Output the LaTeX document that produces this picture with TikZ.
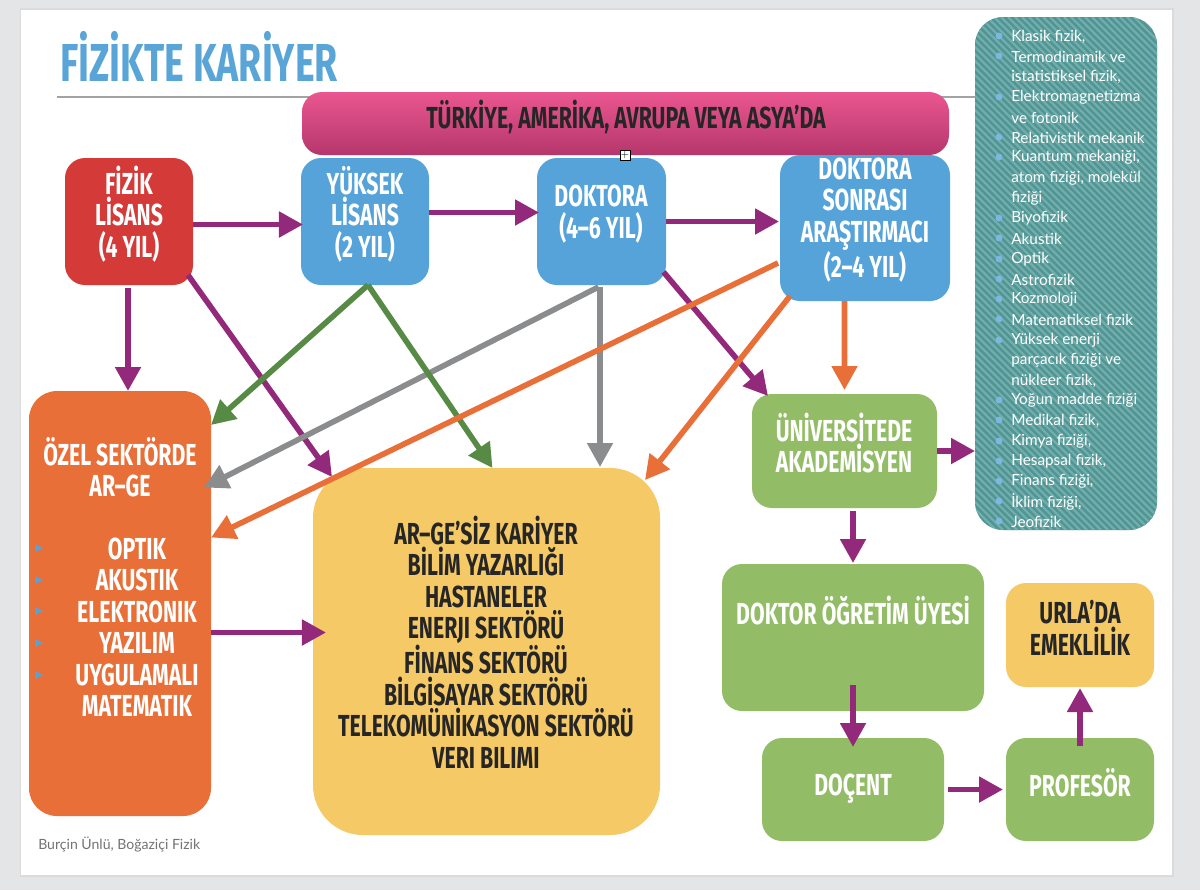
\documentclass[tikz,border=0pt]{standalone}
\usepackage{fontspec}
\usetikzlibrary{calc, positioning, fit, arrows.meta}

\newfontfamily\dinfont[FakeStretch=0.70]{Fira Sans}
\newfontfamily\listfont{Lato}

\definecolor{sayfagri}{HTML}{E3E5E7}
\definecolor{baslikmavi}{HTML}{5AA5D8}
\definecolor{mor}{HTML}{93297A}
\definecolor{kirmizi}{HTML}{D43A38}
\definecolor{mavi}{HTML}{56A3D9}
\definecolor{turuncu}{HTML}{E96F38}
\definecolor{sari}{HTML}{F5C965}
\definecolor{yesil}{HTML}{93BC67}
\definecolor{koyuyesil}{HTML}{578B45}
\definecolor{gri}{HTML}{8A8C8E}
\definecolor{deniz}{HTML}{4E9594}
\definecolor{acikdeniz}{HTML}{72ADAC}
\definecolor{pembeust}{HTML}{EA5690}
\definecolor{pembealt}{HTML}{B5376B}

\tikzset{
	box/.style={inner sep=0pt, outer sep=0pt, rounded corners=0.5cm},
	boxtext/.style={font=\dinfont\bfseries\fontsize{21.6}{22.4}\selectfont, align=center, text=white},
	darktext/.style={boxtext, text=black!85},
	listitem/.style={font=\listfont\fontsize{10.9}{12}\selectfont, text=white, anchor=west, inner sep=0pt},
	arrow/.style={line width=0.14cm, -{Triangle[length=0.6cm, width=0.62cm]}},
}

\begin{document}
\begin{tikzpicture}[x=0.025cm, y=-0.025cm]
	\useasboundingbox (0,0) rectangle (1200,890);
	\fill[sayfagri] (0,0) rectangle (1200,890);
	\fill[black!14] (20,8) rectangle (1174,877);
	\fill[white] (21,10) rectangle (1172,875);

	\node[anchor=base west, inner sep=0pt, text=baslikmavi, font=\dinfont\bfseries\fontsize{38}{40}\selectfont] (title) at (60,81) {FİZİKTE KARİYER};
	\coordinate (linestart) at (57,97);
	\coordinate (lineend) at (975,97);
	\draw[gri!80, line width=0.04cm] (linestart) -- (lineend);

	\node[box, fit={(975,17) (1157,530)}, fill=deniz, rounded corners=0.7cm] (alanlar) {};
	\begin{scope}
		\clip[rounded corners=0.7cm] (975,17) rectangle (1157,530);
		\foreach \s in {0,7,...,700}{
				\draw[acikdeniz, line width=0.06cm] (462+\s,17) -- (975+\s,530);
			}
	\end{scope}
	\foreach \y/\t in {36/{Klasik fizik,},56/Termodinamik ve,76/{istatistiksel fizik,},97/Elektromagnetizma,117/ve fotonik,137/Relativistik mekanik,157/{Kuantum mekaniği,},178/{atom fiziği, molekül},198/fiziği,218/Biyofizik,238/Akustik,259/Optik,279/Astrofizik,299/Kozmoloji,319/Matematiksel fizik,340/Yüksek enerji,360/parçacık fiziği ve,380/{nükleer fizik,},400/Yoğun madde fiziği,420/{Medikal fizik,},441/{Kimya fiziği,},461/{Hesapsal fizik,},481/{Finans fiziği,},501/{İklim fiziği,},521/Jeofizik}{
			\node[listitem] (alan\y) at (1011,\y+0.5) {\t};
		}
	\foreach \y in {36,56,97,137,157,218,238,259,279,299,319,340,400,420,441,461,481,501,521}{
			\fill[baslikmavi!80!white] (999,\y) circle (3.5);
		}

	\node[box, fit={(302,92) (949,155)}, top color=pembeust, bottom color=pembealt] (bolge) {};
	\node[darktext] (bolgetext) at (626,117) {TÜRKİYE, AMERİKA, AVRUPA VEYA ASYA’DA};

	\node[box, fit={(65,158) (193,285)}, fill=kirmizi] (lisans) {};
	\node[box, fit={(301,158) (429,285)}, fill=mavi] (ylisans) {};
	\node[box, fit={(537,158) (666,285)}, fill=mavi] (doktora) {};
	\node[box, fit={(780,155) (950,301)}, fill=mavi] (dsonrasi) {};
	\node[boxtext] (lisanstext) at (129,214) {FİZİK\\LİSANS\\(4 YIL)};
	\node[boxtext] (ylisanstext) at (365,214) {YÜKSEK\\LİSANS\\(2 YIL)};
	\node[boxtext] (doktoratext) at (601,214) {DOKTORA\\(4–6 YIL)};
	\node[boxtext] (dsonrasitext) at (865,220) {DOKTORA\\SONRASI\\ARAŞTIRMACI\\(2–4 YIL)};

	\node[draw=black, fill=white, line width=0.02cm, minimum size=0.25cm, inner sep=0pt, font=\fontsize{7}{7}\selectfont] (arti) at (625,155) {+};

	\node[box, fit={(29,391) (211,816)}, fill=turuncu, rounded corners=0.7cm] (ozel) {};
	\node[boxtext] (ozeltext) at (120,467) {ÖZEL SEKTÖRDE\\AR–GE};
	\node[boxtext] (ozelliste) at (137,627) {OPTIK\\AKUSTIK\\ELEKTRONIK\\YAZILIM\\UYGULAMALI\\MATEMATIK};
	\foreach \y in {548,580,611,643,675}{
			\fill[mavi] (35,\y-4) -- (43,\y) -- (35,\y+4) -- cycle;
		}

	\node[box, fit={(313,468) (660,835)}, fill=sari, rounded corners=1.25cm] (arge) {};
	\node[darktext] (argetext) at (486,642) {AR–GE’SİZ KARİYER\\BİLİM YAZARLIĞI\\HASTANELER\\ENERJI SEKTÖRÜ\\FİNANS SEKTÖRÜ\\BİLGİSAYAR SEKTÖRÜ\\TELEKOMÜNİKASYON SEKTÖRÜ\\VERI BILIMI};

	\node[box, fit={(752,394) (937,508)}, fill=yesil] (akademi) {};
	\node[box, fit={(722,564) (984,711)}, fill=yesil] (ogretim) {};
	\node[box, fit={(762,738) (944,841)}, fill=yesil] (docent) {};
	\node[box, fit={(1006,738) (1154,841)}, fill=yesil] (profesor) {};
	\node[box, fit={(1006,583) (1154,687)}, fill=sari] (emekli) {};
	\node[boxtext] (akademitext) at (844,443) {ÜNİVERSİTEDE\\AKADEMİSYEN};
	\node[boxtext] (ogretimtext) at (853,611) {DOKTOR ÖĞRETİM ÜYESİ};
	\node[boxtext] (docenttext) at (853,789) {DOÇENT};
	\node[boxtext] (profesortext) at (1080,783) {PROFESÖR};
	\node[darktext] (emeklitext) at (1080,628) {URLA’DA\\EMEKLİLİK};

	\node[anchor=west, inner sep=0pt, text=black!55, font=\listfont\fontsize{10}{11}\selectfont] (imza) at (38,845) {Burçin Ünlü, Boğaziçi Fizik};

	\draw[arrow, mor] ($(lisans.east)+(0,3)$) -- ($(ylisans.west)+(2,3)$);
	\draw[arrow, mor] ($(ylisans.east)+(0,-9)$) -- ($(doktora.west)+(2,-9)$);
	\draw[arrow, mor] (doktora.east) -- ($(dsonrasi.west)+(-1,-6.5)$);
	\draw[arrow, mor] ($(lisans.south)+(-1,3)$) -- ($(ozel.north)+(8,0)$);
	\draw[arrow, mor] ($(lisans.south)+(59,-10)$) -- ($(arge.north west)+(19,9)$);
	\draw[arrow, mor] ($(doktora.south)+(62,-13)$) -- ($(akademi.north west)+(16,2)$);
	\draw[arrow, gri] ($(doktora.south)+(-3,2)$) -- ($(ozel.east)+(-7,-116)$);
	\draw[arrow, gri] ($(doktora.south)+(-1.5,2)$) -- ($(arge.north)+(113.5,-1)$);
	\draw[arrow, koyuyesil] ($(ylisans.south)+(3,0)$) -- ($(ozel.north east)+(0,34)$);
	\draw[arrow, koyuyesil] ($(ylisans.south)+(3,0)$) -- ($(arge.north)+(6,0)$);
	\draw[arrow, turuncu] ($(dsonrasi.west)+(-2,35)$) -- ($(ozel.east)+(0,-66)$);
	\draw[arrow, turuncu] ($(dsonrasi.south)+(-75,-5)$) -- ($(arge.north east)+(-15,12)$);
	\draw[arrow, turuncu] ($(dsonrasi.south)+(-20.5,0)$) -- ($(akademi.north)+(0,-4)$);
	\draw[arrow, mor] (akademi.east) -- (alanlar.west |- akademi.east);
	\draw[arrow, mor] ($(akademi.south)+(8.5,3)$) -- ($(ogretim.north)+(0,-1)$);
	\draw[arrow, mor] ($(ogretim.south)+(0,-26)$) -- ($(docent.north)+(0,9)$);
	\draw[arrow, mor] ($(docent.east)+(4,0)$) -- ($(profesor.west)+(-3,0)$);
	\draw[arrow, mor] ($(profesor.north)+(0,8)$) -- ($(emekli.south)+(0,1)$);
	\draw[arrow, mor] ($(ozel.east)+(0,29)$) -- ($(arge.west)+(13,-19)$);
\end{tikzpicture}
\end{document}
